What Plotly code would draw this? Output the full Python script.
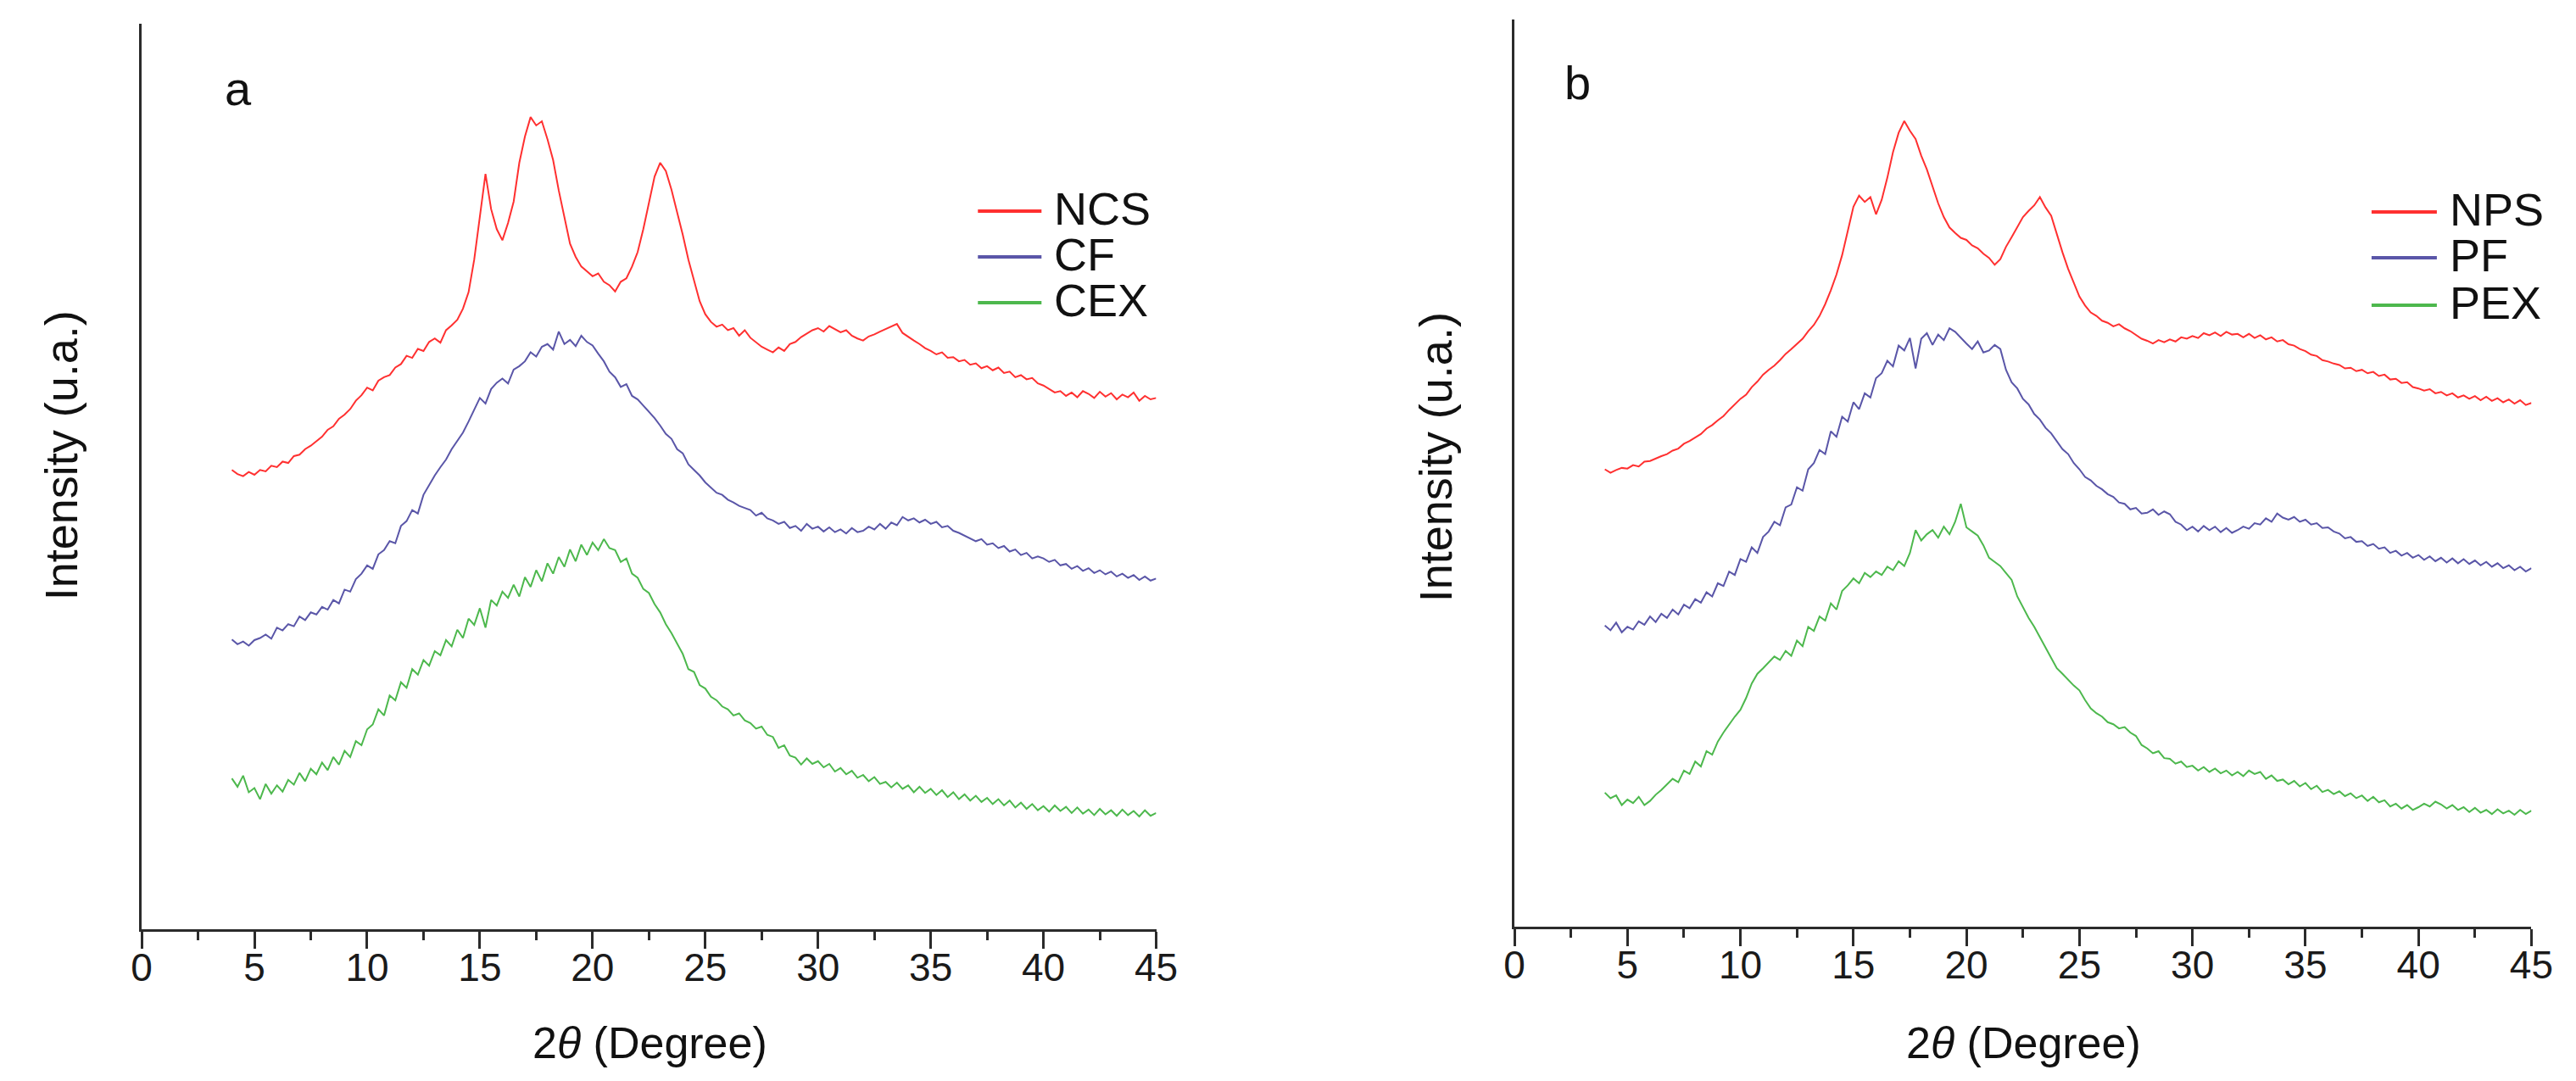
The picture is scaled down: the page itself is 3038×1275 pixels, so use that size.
import plotly.graph_objects as go

# ---------------- data ----------------
# 2-theta sampling grid, 4..45 degrees every 0.25 degree
two_theta = [round(4 + 0.25 * i, 2) for i in range(165)]

# panel a  (intensity, arbitrary units)
ncs = [
    664, 658, 655, 661,
    657, 664, 662, 670,
    668, 676, 674, 684,
    686, 694, 699, 706,
    712, 722, 727, 738,
    744, 752, 764, 772,
    783, 779, 793, 798,
    801, 812, 817, 829,
    826, 839, 836, 849,
    854, 848, 866, 873,
    881, 897, 921, 968,
    1032, 1092, 1041, 1012,
    996, 1021, 1052, 1108,
    1146, 1174, 1162, 1168,
    1142, 1112, 1068, 1028,
    991, 972, 958, 951,
    944, 948, 936, 931,
    922, 936, 941, 958,
    979, 1012, 1049, 1088,
    1108, 1096, 1069, 1038,
    1004, 968, 938, 908,
    889, 878, 871, 874,
    866, 869, 858, 866,
    855, 849, 842, 838,
    834, 841, 836, 846,
    849, 856, 861, 866,
    869, 864, 872, 867,
    863, 866, 858, 854,
    851, 857, 860, 864,
    868, 872, 875, 862,
    856, 851, 846, 840,
    836, 831, 834, 826,
    827, 821, 823, 816,
    818, 811, 814, 808,
    812, 804, 806, 798,
    801, 795, 797, 789,
    786, 781, 776, 778,
    771, 776, 769, 778,
    774, 768, 777, 770,
    775, 766, 773, 769,
    776, 764, 771, 766,
    768,
]

cf = [
    419, 412, 416, 410,
    418, 421, 426, 420,
    436, 432, 441, 438,
    452, 447, 458, 455,
    466, 462, 476, 471,
    491, 488, 506, 514,
    526, 521, 542, 548,
    561, 558, 583, 590,
    606, 601, 628, 642,
    656, 668, 679, 694,
    706, 718, 734, 752,
    768, 760, 781, 790,
    796, 789, 809, 814,
    821, 834, 828, 842,
    846, 838, 864, 846,
    852, 843, 858, 849,
    844, 832, 821, 806,
    798, 784, 788, 771,
    766, 757, 748, 739,
    728, 716, 709, 694,
    688, 672, 664, 656,
    646, 639, 631, 628,
    621, 617, 612, 609,
    606, 598, 602, 594,
    591, 586, 589, 580,
    583, 576, 586, 579,
    582, 575, 581, 574,
    578, 572, 580, 574,
    576, 582, 578, 586,
    579, 588, 584, 596,
    591, 594, 588, 592,
    586, 589, 581, 583,
    576, 573, 569, 566,
    561, 564, 556, 558,
    551, 554, 546, 549,
    541, 544, 536, 539,
    536, 531, 534, 526,
    528, 521, 525, 518,
    522, 515, 519, 513,
    517, 510, 514, 508,
    512, 505, 510, 504,
    507,
]

cex = [
    218, 206, 222, 198,
    204, 188, 210, 196,
    208, 199, 216, 209,
    226, 214, 232, 224,
    241, 230, 249, 238,
    258, 249, 272, 266,
    289, 296, 318, 309,
    338, 331, 357, 349,
    376, 368, 389, 381,
    402, 396, 418, 409,
    433, 421, 449, 440,
    464, 436, 476, 468,
    488, 479, 498, 481,
    509, 495, 519, 503,
    529, 514, 538, 524,
    549, 532, 556, 541,
    559, 548, 564, 551,
    548, 531, 536, 514,
    508, 492, 486, 470,
    458, 441, 428, 412,
    398, 376, 372, 353,
    348, 336, 331, 322,
    318, 309, 312, 302,
    298, 290, 293, 281,
    278, 262, 266, 251,
    248, 238, 247, 239,
    243, 234, 239, 228,
    233, 224, 229, 219,
    223, 214, 220, 210,
    213, 205, 212, 203,
    208, 198, 206, 197,
    203, 194, 201, 191,
    198, 188, 195, 186,
    193, 184, 190, 181,
    188, 179, 186, 176,
    183, 174, 181, 172,
    178, 170, 179, 171,
    177, 168, 176, 167,
    173, 165, 174, 166,
    172, 164, 173, 165,
    171, 163, 172, 164,
    168,
]

# panel b
nps = [
    662, 657, 661, 664,
    663, 668, 666, 673,
    674, 678, 681, 684,
    689, 692, 699, 703,
    708, 713, 721, 726,
    733, 739, 748, 756,
    764, 770, 781, 789,
    799, 806, 812, 820,
    829, 836, 844, 851,
    862, 871, 884, 901,
    921, 944, 972, 1008,
    1042, 1058, 1049, 1056,
    1031, 1052, 1084, 1121,
    1149, 1166, 1152, 1140,
    1116, 1096, 1071, 1047,
    1027, 1012, 1004, 997,
    994, 986, 982, 974,
    968, 958, 966, 984,
    998, 1012, 1027, 1036,
    1044, 1056, 1041, 1029,
    1002, 976, 952, 931,
    912, 899, 889, 884,
    877, 874, 869, 872,
    866, 862, 856, 851,
    848, 844, 849, 846,
    850, 847, 853, 851,
    855, 852, 859, 856,
    860, 855, 861, 857,
    858, 853, 858, 852,
    856, 850, 853, 847,
    849, 843, 841, 836,
    833, 828, 826, 820,
    818, 815, 813, 808,
    809, 804, 806, 801,
    803, 797, 799, 792,
    793, 787, 788, 781,
    779, 776, 778, 772,
    774, 769, 772, 766,
    769, 764, 768, 762,
    767, 761, 765, 759,
    763, 757, 762, 755,
    758,
]

pf = [
    436, 429, 440, 426,
    434, 430, 442, 437,
    449, 441, 453, 447,
    459, 452, 466, 461,
    474, 469, 484, 478,
    497, 493, 514, 509,
    532, 528, 549, 541,
    564, 572, 586, 581,
    607, 611, 636, 631,
    662, 671, 690, 684,
    717, 709, 738, 731,
    759, 749, 772, 766,
    794, 801, 819, 811,
    841, 834, 852, 808,
    851, 859, 842, 857,
    849, 866, 861, 852,
    844, 836, 847, 831,
    834, 842, 836, 806,
    788, 779, 764, 756,
    742, 734, 722, 714,
    702, 691, 684, 671,
    662, 651, 646, 638,
    633, 626, 622, 614,
    612, 604, 606, 598,
    599, 604, 596, 601,
    597, 586, 582, 574,
    579, 572, 580, 574,
    579, 571, 577, 570,
    574, 579, 576, 584,
    582, 591, 586, 598,
    592, 589, 593, 586,
    589, 582, 584, 577,
    578, 572, 569, 562,
    564, 557, 558, 551,
    554, 547, 549, 541,
    544, 537, 541, 534,
    538, 531, 536, 529,
    534, 527, 533, 526,
    532, 525, 530, 523,
    528, 521, 526, 519,
    523, 516, 521, 514,
    519,
]

pex = [
    194, 186, 190, 176,
    184, 179, 188, 176,
    182, 191, 198, 206,
    214, 209, 226, 221,
    239, 232, 254, 249,
    268, 281, 293, 304,
    314, 331, 352, 366,
    374, 383, 391, 386,
    399, 392, 414, 406,
    434, 428, 449, 443,
    468, 459, 486, 494,
    504, 497, 512, 506,
    514, 509, 521, 516,
    529, 522, 541, 574,
    559, 568, 574, 563,
    579, 568, 586, 612,
    578, 572, 566, 552,
    534, 528, 522, 512,
    502, 478, 462, 447,
    434, 418, 404, 389,
    374, 366, 357, 349,
    342, 328, 316, 309,
    304, 296, 293, 287,
    289, 281, 276, 263,
    258, 251, 254, 244,
    243, 236, 239, 231,
    233, 226, 231, 224,
    229, 222, 226, 219,
    224, 218, 226, 221,
    224, 214, 219, 211,
    213, 206, 211, 203,
    208, 199, 204, 195,
    198, 192, 196, 189,
    193, 186, 190, 182,
    188, 180, 183, 174,
    178, 171, 176, 169,
    173, 178, 174, 181,
    177, 171, 176, 169,
    173, 166, 172, 165,
    169, 163, 170, 164,
    168, 162, 169, 163,
    168,
]

x_ticks = [0, 5, 10, 15, 20, 25, 30, 35, 40, 45]
names_a = ["NCS", "CF", "CEX"]
names_b = ["NPS", "PF", "PEX"]
colors = ["#FF3030", "#5A56A8", "#4DB84D"]

# ---------------- figure ----------------
W, H = 3038, 1275
FONT = "Liberation Sans, Arial, sans-serif"
AX = "#2b2b2b"
TXT = "#111111"

fig = go.Figure()
for name, ys, col in zip(names_a, [ncs, cf, cex], colors):
    fig.add_trace(go.Scatter(x=two_theta, y=ys, mode="lines", name=name,
                             line=dict(color=col, width=2),
                             xaxis="x", yaxis="y", showlegend=False))
for name, ys, col in zip(names_b, [nps, pf, pex], colors):
    fig.add_trace(go.Scatter(x=two_theta, y=ys, mode="lines", name=name,
                             line=dict(color=col, width=2),
                             xaxis="x2", yaxis="y2", showlegend=False))


def xaxis(domain, anchor):
    return dict(domain=domain, anchor=anchor, range=[0, 45],
                tickmode="array", tickvals=x_ticks,
                ticks="outside", ticklen=20, tickwidth=3, tickcolor=AX,
                minor=dict(dtick=2.5, tick0=0, ticks="outside", ticklen=10,
                           tickwidth=3, tickcolor=AX),
                showline=True, linecolor=AX, linewidth=3,
                showgrid=False, zeroline=False, ticklabelstandoff=-17,
                tickfont=dict(family=FONT, size=46, color="#1a1a1a"))


def yaxis(domain, anchor, top):
    return dict(domain=domain, anchor=anchor, range=[0, top],
                showticklabels=False, ticks="", showgrid=False,
                zeroline=False, showline=True, linecolor=AX, linewidth=3)


def label(text, x, y, size, angle=0, xanchor="center"):
    return dict(text=text, x=x / W, y=1 - y / H, xref="paper", yref="paper",
                xanchor=xanchor, yanchor="middle", textangle=angle,
                showarrow=False, font=dict(family=FONT, size=size, color=TXT))


annotations = [
    label("a", 263, 96, 56),
    label("b", 1863, 90, 56),
    label("Intensity (u.a.)", 52, 529, 54, angle=-90),
    label("Intensity (u.a.)", 1694, 531, 54, angle=-90),
    label("2<i>θ</i> (Degree)", 755, 1222, 52),
    label("2<i>θ</i> (Degree)", 2396, 1222, 52),
]
shapes = []

# hand-placed legends (one per panel), matching the reference layout
legend_rows_a = [241, 295, 349]
legend_rows_b = [242, 296, 352]
for names, rows, x0, x1, xt in [(names_a, legend_rows_a, 1147, 1223, 1236),
                                (names_b, legend_rows_b, 2812, 2890, 2903)]:
    for name, ry, col in zip(names, rows, colors):
        shapes.append(dict(type="line", xref="paper", yref="paper",
                           x0=x0 / W, x1=x1 / W, y0=1 - ry / H, y1=1 - ry / H,
                           line=dict(color=col, width=4)))
        annotations.append(label(name, xt, ry - 3, 54, xanchor="left"))

fig.update_layout(
    width=W, height=H,
    margin=dict(l=0, r=0, t=0, b=0),
    paper_bgcolor="white", plot_bgcolor="white",
    showlegend=False,
    xaxis=xaxis([148 / W, 1360 / W], "y"),
    yaxis=yaxis([187 / H, 1255 / H], "x", 1309),
    xaxis2=xaxis([1788 / W, 3003 / W], "y2"),
    yaxis2=yaxis([190 / H, 1260 / H], "x2", 1313),
    annotations=annotations,
    shapes=shapes,
)

fig.write_html("out.html")
